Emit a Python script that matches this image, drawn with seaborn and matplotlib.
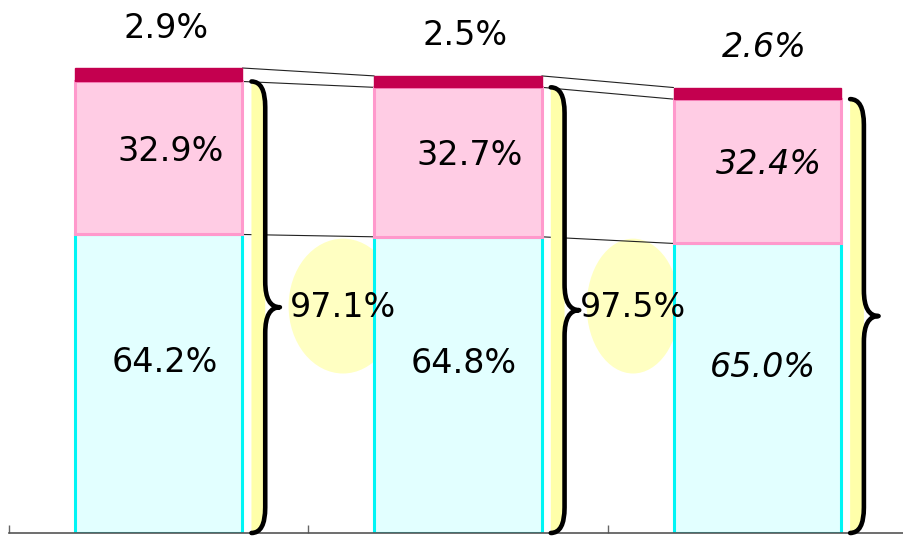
import numpy as np
import pandas as pd
import matplotlib
matplotlib.use("Agg")
import matplotlib.pyplot as plt
from matplotlib.patches import Ellipse, PathPatch
from matplotlib.path import Path
import seaborn as sns

# ---- data -------------------------------------------------------------
groups = ["first", "second", "third"]
totals = [100.0, 98.3, 95.8]          # relative size of each column
share_base = [64.2, 64.8, 65.0]       # lower segment, %
share_mid = [32.9, 32.7, 32.4]        # middle segment, %
share_top = [2.9, 2.5, 2.6]           # top segment, %
combined_share = [97.1, 97.5]         # lower + middle, shown between columns

# ---- styling ----------------------------------------------------------
BLUE_FILL, BLUE_EDGE = "#E2FFFF", "#00F5F5"
PINK_FILL, PINK_EDGE = "#FFCCE4", "#FF99CC"
DARK = "#C4004F"
BAND = "#FFFFAA"
BUBBLE = "#FFFFC2"
W = 0.56
FS = 24
label_style = ["normal", "normal", "italic"]
bubble_dx = [0.616, 0.585]
bubble_w = [0.364, 0.31]

sns.set_style("white")
plt.rcParams["font.family"] = ["DejaVu Sans"]
plt.rcParams["text.color"] = "black"

T = np.array(totals)
h_base = T * np.array(share_base) / 100
h_mid = T * np.array(share_mid) / 100
h_top = T * np.array(share_top) / 100
df = pd.DataFrame({"group": groups, "base": h_base, "mid": h_mid, "top": h_top})

fig = plt.figure(figsize=(9.04, 5.41), dpi=100)
ax = fig.add_axes([9 / 904, 8 / 541, 895 / 904, 533 / 541])

# stacked columns
sns.barplot(data=df, x="group", y="base", color=BLUE_FILL, edgecolor=BLUE_EDGE,
            linewidth=2.2, width=W, saturation=1, errorbar=None, ax=ax, zorder=2)
sns.barplot(data=df, x="group", y="mid", bottom=h_base, color=PINK_FILL,
            edgecolor=PINK_EDGE, linewidth=2.2, width=W, saturation=1,
            errorbar=None, ax=ax, zorder=2.1)
sns.barplot(data=df, x="group", y="top", bottom=h_base + h_mid, color=DARK,
            edgecolor=DARK, linewidth=1, width=W, saturation=1,
            errorbar=None, ax=ax, zorder=2.2)

# connector lines between neighbouring columns
levels = [T, h_base + h_mid, h_base]
for i in range(len(groups) - 1):
    for lev in levels:
        ax.plot([i + W / 2, i + 1 - W / 2], [lev[i], lev[i + 1]],
                color="#222222", lw=0.8, zorder=1.5)


def brace(xc, y_b, y_t):
    x0, x1, x2 = xc + 0.31, xc + 0.356, xc + 0.405
    ym = (y_b + y_t) / 2
    r = 5.5
    band = Path([(x0, y_t), (x1, y_t), (x1, y_t - r), (x1, y_b + r),
                 (x1, y_b), (x0, y_b), (x0, y_t)],
                [Path.MOVETO, Path.CURVE3, Path.CURVE3, Path.LINETO,
                 Path.CURVE3, Path.CURVE3, Path.CLOSEPOLY])
    ax.add_patch(PathPatch(band, fc=BAND, ec="none", zorder=3, clip_on=False))
    stroke = Path([(x0, y_t), (x1, y_t), (x1, y_t - r), (x1, ym + r),
                   (x1, ym), (x2, ym), (x1, ym), (x1, ym - r),
                   (x1, y_b + r), (x1, y_b), (x0, y_b)],
                  [Path.MOVETO, Path.CURVE3, Path.CURVE3, Path.LINETO,
                   Path.CURVE3, Path.CURVE3, Path.CURVE3, Path.CURVE3,
                   Path.LINETO, Path.CURVE3, Path.CURVE3])
    ax.add_patch(PathPatch(stroke, fc="none", ec="black", lw=3.3,
                           capstyle="round", joinstyle="round", zorder=4,
                           clip_on=False))


for i in range(len(groups)):
    brace(i, 0.0, h_base[i] + h_mid[i])

# combined-share bubbles
for i, val in enumerate(combined_share):
    ax.add_patch(Ellipse((i + bubble_dx[i], 48.8), width=bubble_w[i], height=29,
                         fc=BUBBLE, ec="none", zorder=1))
    ax.text(i + bubble_dx[i], 48.4, f"{val:.1f}%", ha="center", va="center",
            fontsize=FS, color="black", zorder=6)

# segment labels
for i in range(len(groups)):
    st = label_style[i]
    ax.text(i + 0.025, T[i] + 8.6, f"{share_top[i]:.1f}%", ha="center",
            va="center", fontsize=FS, style=st, color="black", zorder=6)
    ax.text(i + 0.04, h_base[i] + h_mid[i] / 2 + 1.5, f"{share_mid[i]:.1f}%",
            ha="center", va="center", fontsize=FS, style=st, color="black",
            zorder=6)
    ax.text(i + 0.02, h_base[i] / 2 + 4.5, f"{share_base[i]:.1f}%",
            ha="center", va="center", fontsize=FS, style=st, color="black",
            zorder=6)

# axes
ax.set_xlim(-0.5, 2.49)
ax.set_ylim(0, 533 / 4.65)
ax.set_xticks([-0.5, 0.5, 1.5])
ax.set_yticks([])
ax.tick_params(axis="x", direction="in", length=6, width=1, color="#666666",
               labelbottom=False, bottom=True)
ax.set_xlabel("")
ax.set_ylabel("")
for side in ["left", "top", "right"]:
    ax.spines[side].set_visible(False)
ax.spines["bottom"].set_color("#555555")
ax.spines["bottom"].set_linewidth(1.2)
ax.patch.set_alpha(0)

fig.savefig("out.png", dpi=100)
